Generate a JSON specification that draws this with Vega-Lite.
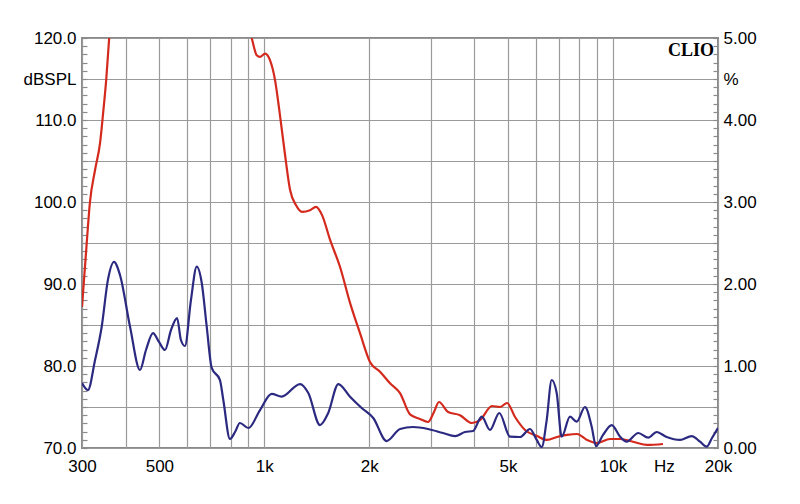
{
  "$schema": "https://vega.github.io/schema/vega-lite/v6.json",
  "width": 636,
  "height": 410,
  "autosize": "none",
  "padding": {"left": 82, "top": 38, "right": 82, "bottom": 56},
  "background": "white",
  "config": {
    "view": {"stroke": "#8a8a8a", "strokeWidth": 2},
    "axis": {"labelFont": "Liberation Sans", "labelFontSize": 17, "labelColor": "black", "domain": false}
  },
  "title": {"text": "CLIO", "anchor": "end", "orient": "top", "frame": "group", "offset": -31, "dx": -4, "font": "Liberation Serif", "fontWeight": "bold", "fontSize": 18, "color": "black"},
  "datasets": {
    "red": [
      {"f": 300, "pct": 1.72}, {"f": 309.5, "pct": 2.5}, {"f": 316, "pct": 2.99}, {"f": 327, "pct": 3.39},
      {"f": 338, "pct": 3.72}, {"f": 345, "pct": 4.09}, {"f": 352, "pct": 4.49}, {"f": 359, "pct": 5.0},
      {"f": 380, "pct": 6.0}, {"f": 800, "pct": 6.0}, {"f": 920, "pct": 5.0}, {"f": 951, "pct": 4.79},
      {"f": 972, "pct": 4.77}, {"f": 1005, "pct": 4.81}, {"f": 1038, "pct": 4.73}, {"f": 1073, "pct": 4.49},
      {"f": 1104, "pct": 4.12}, {"f": 1147, "pct": 3.57}, {"f": 1185, "pct": 3.15}, {"f": 1233, "pct": 2.96},
      {"f": 1283, "pct": 2.88}, {"f": 1352, "pct": 2.9}, {"f": 1407, "pct": 2.94}, {"f": 1464, "pct": 2.84},
      {"f": 1543, "pct": 2.54}, {"f": 1648, "pct": 2.21}, {"f": 1761, "pct": 1.77}, {"f": 1881, "pct": 1.4},
      {"f": 2009, "pct": 1.05}, {"f": 2147, "pct": 0.93}, {"f": 2293, "pct": 0.79}, {"f": 2450, "pct": 0.67},
      {"f": 2617, "pct": 0.41}, {"f": 2795, "pct": 0.354}, {"f": 2947, "pct": 0.317}, {"f": 3066, "pct": 0.44},
      {"f": 3169, "pct": 0.561}, {"f": 3364, "pct": 0.44}, {"f": 3639, "pct": 0.4}, {"f": 3939, "pct": 0.305},
      {"f": 4155, "pct": 0.341}, {"f": 4497, "pct": 0.512}, {"f": 4743, "pct": 0.5}, {"f": 4967, "pct": 0.549},
      {"f": 5236, "pct": 0.378}, {"f": 5592, "pct": 0.22}, {"f": 6055, "pct": 0.146}, {"f": 6467, "pct": 0.098},
      {"f": 6907, "pct": 0.134}, {"f": 7379, "pct": 0.159}, {"f": 7883, "pct": 0.171}, {"f": 8420, "pct": 0.098},
      {"f": 8997, "pct": 0.061}, {"f": 9803, "pct": 0.11}, {"f": 10473, "pct": 0.11}, {"f": 11485, "pct": 0.073},
      {"f": 12516, "pct": 0.037}, {"f": 13911, "pct": 0.049}
    ],
    "blue": [
      {"f": 300, "pct": 0.793}, {"f": 312, "pct": 0.707}, {"f": 327, "pct": 1.073}, {"f": 341.7, "pct": 1.479},
      {"f": 356, "pct": 2.05}, {"f": 370.6, "pct": 2.27}, {"f": 385.5, "pct": 2.11}, {"f": 412, "pct": 1.479},
      {"f": 440, "pct": 0.951}, {"f": 457.7, "pct": 1.195}, {"f": 479.5, "pct": 1.402}, {"f": 498.8, "pct": 1.293},
      {"f": 519, "pct": 1.195}, {"f": 540, "pct": 1.439}, {"f": 562, "pct": 1.585}, {"f": 576.5, "pct": 1.317},
      {"f": 592, "pct": 1.244}, {"f": 616, "pct": 1.805}, {"f": 640, "pct": 2.211}, {"f": 661.5, "pct": 2.012},
      {"f": 683.6, "pct": 1.479}, {"f": 706.5, "pct": 0.976}, {"f": 746, "pct": 0.829}, {"f": 762.7, "pct": 0.585},
      {"f": 797, "pct": 0.11}, {"f": 824, "pct": 0.195}, {"f": 851, "pct": 0.305}, {"f": 900, "pct": 0.244},
      {"f": 972, "pct": 0.463}, {"f": 1050, "pct": 0.659}, {"f": 1121, "pct": 0.626}, {"f": 1266, "pct": 0.78},
      {"f": 1337, "pct": 0.671}, {"f": 1444, "pct": 0.28}, {"f": 1525, "pct": 0.427}, {"f": 1630, "pct": 0.78},
      {"f": 1761, "pct": 0.626}, {"f": 1902, "pct": 0.488}, {"f": 2053, "pct": 0.366}, {"f": 2243, "pct": 0.085},
      {"f": 2450, "pct": 0.232}, {"f": 2669, "pct": 0.256}, {"f": 2947, "pct": 0.232}, {"f": 3254, "pct": 0.183},
      {"f": 3523, "pct": 0.146}, {"f": 3763, "pct": 0.195}, {"f": 3967, "pct": 0.207}, {"f": 4202, "pct": 0.382},
      {"f": 4439, "pct": 0.22}, {"f": 4719, "pct": 0.427}, {"f": 5065, "pct": 0.138}, {"f": 5412, "pct": 0.134},
      {"f": 5781, "pct": 0.232}, {"f": 6042, "pct": 0.098}, {"f": 6244, "pct": 0.012}, {"f": 6453, "pct": 0.341},
      {"f": 6669, "pct": 0.829}, {"f": 6893, "pct": 0.671}, {"f": 7125, "pct": 0.138}, {"f": 7527, "pct": 0.382},
      {"f": 7866, "pct": 0.321}, {"f": 8310, "pct": 0.5}, {"f": 8685, "pct": 0.26}, {"f": 8937, "pct": 0.024},
      {"f": 9360, "pct": 0.159}, {"f": 9915, "pct": 0.28}, {"f": 10473, "pct": 0.138}, {"f": 10946, "pct": 0.077},
      {"f": 11814, "pct": 0.183}, {"f": 12621, "pct": 0.126}, {"f": 13341, "pct": 0.195}, {"f": 14253, "pct": 0.134},
      {"f": 15564, "pct": 0.098}, {"f": 16815, "pct": 0.146}, {"f": 17760, "pct": 0.077}, {"f": 18561, "pct": 0.016},
      {"f": 19221, "pct": 0.122}, {"f": 20000, "pct": 0.244}
    ]
  },
  "encoding": {
    "x": {
      "field": "f", "type": "quantitative",
      "scale": {"type": "log", "domain": [300, 20000], "nice": false},
      "axis": {
        "title": null,
        "values": [300, 400, 500, 600, 700, 800, 900, 1000, 2000, 3000, 4000, 5000, 6000, 7000, 8000, 9000, 10000, 14000, 20000],
        "grid": true, "gridColor": "#9a9a9a", "gridWidth": 1.2,
        "gridOpacity": {"condition": {"test": "datum.value == 14000", "value": 0}, "value": 1},
        "ticks": false, "labelPadding": 10, "labelFlush": false, "labelOverlap": false,
        "labelExpr": "datum.value == 300 ? '300' : datum.value == 500 ? '500' : datum.value == 1000 ? '1k' : datum.value == 2000 ? '2k' : datum.value == 5000 ? '5k' : datum.value == 10000 ? '10k' : datum.value == 14000 ? 'Hz' : datum.value == 20000 ? '20k' : ''"
      }
    }
  },
  "layer": [
    {
      "data": {"name": "red"},
      "mark": {"type": "line", "color": "#d42a1e", "strokeWidth": 2.2, "interpolate": "monotone", "clip": true},
      "encoding": {
        "y": {
          "field": "pct", "type": "quantitative",
          "scale": {"domain": [0, 5], "nice": false, "zero": false},
          "axis": {
            "orient": "right", "title": null, "grid": false,
            "values": [0,0.1,0.2,0.3,0.4,0.5,0.6,0.7,0.8,0.9,1,1.1,1.2,1.3,1.4,1.5,1.6,1.7,1.8,1.9,2,2.1,2.2,2.3,2.4,2.5,2.6,2.7,2.8,2.9,3,3.1,3.2,3.3,3.4,3.5,3.6,3.7,3.8,3.9,4,4.1,4.2,4.3,4.4,4.5,4.6,4.7,4.8,4.9,5],
            "tickSize": -5, "tickColor": "#8a8a8a", "tickWidth": 1.2, "labelPadding": 10, "labelOverlap": false, "labelFlush": false,
            "labelExpr": "datum.value == 4.5 ? '%' : (abs(datum.value - round(datum.value)) < 0.001 ? format(datum.value, '.2f') : '')"
          }
        }
      }
    },
    {
      "data": {"name": "blue"},
      "mark": {"type": "line", "color": "#2b2a80", "strokeWidth": 2.2, "interpolate": "monotone", "clip": true},
      "encoding": {
        "y": {
          "field": "pct", "type": "quantitative",
          "scale": {"domain": [0, 5], "nice": false, "zero": false},
          "axis": {
            "orient": "left", "title": null,
            "values": [0,0.1,0.2,0.3,0.4,0.5,0.6,0.7,0.8,0.9,1,1.1,1.2,1.3,1.4,1.5,1.6,1.7,1.8,1.9,2,2.1,2.2,2.3,2.4,2.5,2.6,2.7,2.8,2.9,3,3.1,3.2,3.3,3.4,3.5,3.6,3.7,3.8,3.9,4,4.1,4.2,4.3,4.4,4.5,4.6,4.7,4.8,4.9,5],
            "grid": true, "gridColor": "#9a9a9a", "gridWidth": 1.2,
            "gridOpacity": {"condition": {"test": "abs(datum.value*2 - round(datum.value*2)) < 0.001", "value": 1}, "value": 0},
            "tickSize": -5, "tickColor": "#8a8a8a", "tickWidth": 1.2, "labelPadding": 11, "labelOverlap": false, "labelFlush": false,
            "labelExpr": "datum.value == 4.5 ? 'dBSPL' : (abs(datum.value - round(datum.value)) < 0.001 ? format(70 + 10*datum.value, '.1f') : '')"
          }
        }
      }
    }
  ],
  "resolve": {"scale": {"y": "independent"}}
}
